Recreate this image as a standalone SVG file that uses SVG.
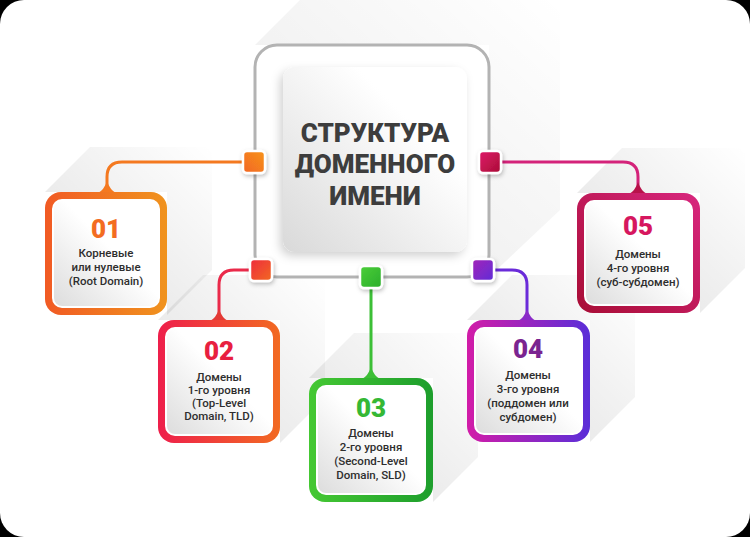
<svg xmlns="http://www.w3.org/2000/svg" width="750" height="537" viewBox="0 0 750 537">
<defs>
<style>
.num{font-family:Roboto,"Liberation Sans",sans-serif;font-weight:900;font-size:26px;text-anchor:middle}
.lbl{font-family:Roboto,"Liberation Sans",sans-serif;font-weight:500;font-size:11.5px;fill:#2e2e2e;text-anchor:middle}
.ttl{font-family:Roboto,"Liberation Sans",sans-serif;font-weight:900;font-size:26px;fill:#3d3d3d;text-anchor:middle}
.con{fill:none;stroke-width:3;stroke-linecap:round}
.sq{stroke:#fff;stroke-width:2.5}
.inner{fill:url(#gIn);stroke:#fff;stroke-width:2}
.shd{fill:url(#gSh)}
</style>
<linearGradient id="gIn" x1="1" y1="0" x2="0" y2="1"><stop offset="0.45" stop-color="#ffffff"/><stop offset="1" stop-color="#dcdcdc"/></linearGradient>
<linearGradient id="gCard" x1="1" y1="0" x2="0" y2="1"><stop offset="0.3" stop-color="#ffffff"/><stop offset="1" stop-color="#d9d9d9"/></linearGradient>
<linearGradient id="gSh" x1="0.2" y1="0.8" x2="1" y2="0"><stop offset="0" stop-color="#000" stop-opacity="0.10"/><stop offset="1" stop-color="#000" stop-opacity="0"/></linearGradient>
<linearGradient id="g1" x1="0" y1="0" x2="1" y2="0"><stop offset="0" stop-color="#f15a24"/><stop offset="1" stop-color="#f0931e"/></linearGradient>
<linearGradient id="g2" x1="0" y1="0" x2="1" y2="0"><stop offset="0" stop-color="#ee1f4b"/><stop offset="1" stop-color="#f26a22"/></linearGradient>
<linearGradient id="g3" x1="0" y1="0" x2="1" y2="0"><stop offset="0" stop-color="#45c833"/><stop offset="1" stop-color="#1d9e2c"/></linearGradient>
<linearGradient id="g4" x1="0" y1="0" x2="1" y2="0"><stop offset="0" stop-color="#d21ca8"/><stop offset="1" stop-color="#5a2ed8"/></linearGradient>
<linearGradient id="g5" x1="0" y1="1" x2="1" y2="0"><stop offset="0" stop-color="#a80d35"/><stop offset="1" stop-color="#d8267e"/></linearGradient>
<linearGradient id="s1" x1="0" y1="1" x2="1" y2="0"><stop offset="0" stop-color="#f26522"/><stop offset="1" stop-color="#f7941d"/></linearGradient>
<linearGradient id="s2" x1="0" y1="0" x2="1" y2="1"><stop offset="0" stop-color="#ee2a3d"/><stop offset="1" stop-color="#f26a22"/></linearGradient>
<linearGradient id="s3" x1="0" y1="0" x2="1" y2="1"><stop offset="0" stop-color="#4ccf3a"/><stop offset="1" stop-color="#2aad2a"/></linearGradient>
<linearGradient id="s4" x1="0" y1="0" x2="1" y2="1"><stop offset="0" stop-color="#a524b8"/><stop offset="1" stop-color="#5e2ed8"/></linearGradient>
<linearGradient id="s5" x1="0" y1="0" x2="1" y2="1"><stop offset="0" stop-color="#e01a6a"/><stop offset="1" stop-color="#a80d35"/></linearGradient>
<filter id="ds" x="-50%" y="-50%" width="200%" height="200%"><feDropShadow dx="1" dy="2" stdDeviation="2" flood-color="#000" flood-opacity="0.25"/></filter>
<filter id="ds2" x="-20%" y="-20%" width="140%" height="140%"><feDropShadow dx="-3" dy="4" stdDeviation="5" flood-color="#000" flood-opacity="0.18"/></filter>
</defs>
<rect width="750" height="537" fill="#000"/>
<rect width="750" height="537" rx="24" fill="#fff"/>

<g id="shadows">
<polygon class="shd" points="255,45 300,0 560,0 560,210 489,277 489,45" opacity="0.7"/>
<polygon class="shd" points="45,192 90,147 212,147 212,270 167,315 167,192"/>
<polygon class="shd" points="158,320 203,275 325,275 325,398 280,443 280,320"/>
<polygon class="shd" points="309,378 354,333 478,333 478,457 433,502 433,378"/>
<polygon class="shd" points="467,320 512,275 635,275 635,397 590,442 590,320"/>
<polygon class="shd" points="577,193 622,148 745,148 745,268 700,313 700,193"/>
</g>

<g id="center">
<rect x="255" y="45" width="234" height="232" rx="22" fill="none" stroke="#b3b3b3" stroke-width="3"/>
<rect x="283" y="67" width="184" height="185" rx="12" fill="url(#gCard)" filter="url(#ds2)"/>
<text class="ttl" x="375" y="142">СТРУКТУРА</text>
<text class="ttl" x="375" y="173">ДОМЕННОГО</text>
<text class="ttl" x="375" y="205">ИМЕНИ</text>
</g>

<g id="connectors">
<path class="con" stroke="#f47920" d="M243 162 H122 Q107 162 107 177 V190"/>
<path fill="#f47920" d="M98 193 Q104 190 107 181 Q110 190 116 193 Z"/>
<path class="con" stroke="#ea2a4a" d="M250 270 H234 Q219 270 219 285 V318"/>
<path fill="#e33a35" d="M210 321 Q216 318 219 309 Q222 318 228 321 Z"/>
<path class="con" stroke="#3cbf36" d="M371 288 V376"/>
<path fill="#3cbf36" d="M362 379 Q368 376 371 367 Q374 376 380 379 Z"/>
<path class="con" stroke="#6a2bd9" d="M494 270 H512 Q527 270 527 285 V318"/>
<path fill="#8a2bc8" d="M518 321 Q524 318 527 309 Q530 318 536 321 Z"/>
<path class="con" stroke="#d4237a" d="M501 162 H623 Q638 162 638 177 V191"/>
<path fill="#b8124a" d="M629 194 Q635 191 638 182 Q641 191 647 194 Z"/>
</g>

<g id="sq1"><rect class="sq" x="243" y="151" width="22" height="22" rx="4" fill="url(#s1)" filter="url(#ds)"/></g>
<g id="sq2"><rect class="sq" x="250" y="259" width="22" height="22" rx="4" fill="url(#s2)" filter="url(#ds)"/></g>
<g id="sq3"><rect class="sq" x="360" y="266" width="22" height="22" rx="4" fill="url(#s3)" filter="url(#ds)"/></g>
<g id="sq4"><rect class="sq" x="472" y="259" width="22" height="22" rx="4" fill="url(#s4)" filter="url(#ds)"/></g>
<g id="sq5"><rect class="sq" x="479" y="151" width="22" height="22" rx="4" fill="url(#s5)" filter="url(#ds)"/></g>

<g id="node01">
<rect x="45" y="192" width="122" height="123" rx="16" fill="url(#g1)"/>
<rect class="inner" x="53" y="200" width="106" height="107" rx="9"/>
<text class="num" x="106" y="238" fill="#f36c21">01</text>
<text class="lbl" x="106" y="257">Корневые</text>
<text class="lbl" x="106" y="271">или нулевые</text>
<text class="lbl" x="106" y="285">(Root Domain)</text>
</g>

<g id="node02">
<rect x="158" y="320" width="122" height="123" rx="16" fill="url(#g2)"/>
<rect class="inner" x="166" y="328" width="106" height="107" rx="9"/>
<text class="num" x="219" y="360" fill="#e8203f">02</text>
<text class="lbl" x="219" y="381">Домены</text>
<text class="lbl" x="219" y="394">1-го уровня</text>
<text class="lbl" x="219" y="407">(Top-Level</text>
<text class="lbl" x="219" y="420">Domain, TLD)</text>
</g>

<g id="node03">
<rect x="309" y="378" width="124" height="124" rx="16" fill="url(#g3)"/>
<rect class="inner" x="317" y="386" width="108" height="108" rx="9"/>
<text class="num" x="371" y="417" fill="#35b835">03</text>
<text class="lbl" x="371" y="437">Домены</text>
<text class="lbl" x="371" y="451">2-го уровня</text>
<text class="lbl" x="371" y="465">(Second-Level</text>
<text class="lbl" x="371" y="479">Domain, SLD)</text>
</g>

<g id="node04">
<rect x="467" y="320" width="123" height="122" rx="16" fill="url(#g4)"/>
<rect class="inner" x="475" y="328" width="107" height="106" rx="9"/>
<text class="num" x="528" y="358" fill="#7b2490">04</text>
<text class="lbl" x="528" y="379">Домены</text>
<text class="lbl" x="528" y="393">3-го уровня</text>
<text class="lbl" x="528" y="407">(поддомен или</text>
<text class="lbl" x="528" y="421">субдомен)</text>
</g>

<g id="node05">
<rect x="577" y="193" width="123" height="120" rx="16" fill="url(#g5)"/>
<rect class="inner" x="585" y="201" width="107" height="104" rx="9"/>
<text class="num" x="638" y="235" fill="#d6175f">05</text>
<text class="lbl" x="638" y="258">Домены</text>
<text class="lbl" x="638" y="272">4-го уровня</text>
<text class="lbl" x="638" y="286">(суб-субдомен)</text>
</g>
</svg>
